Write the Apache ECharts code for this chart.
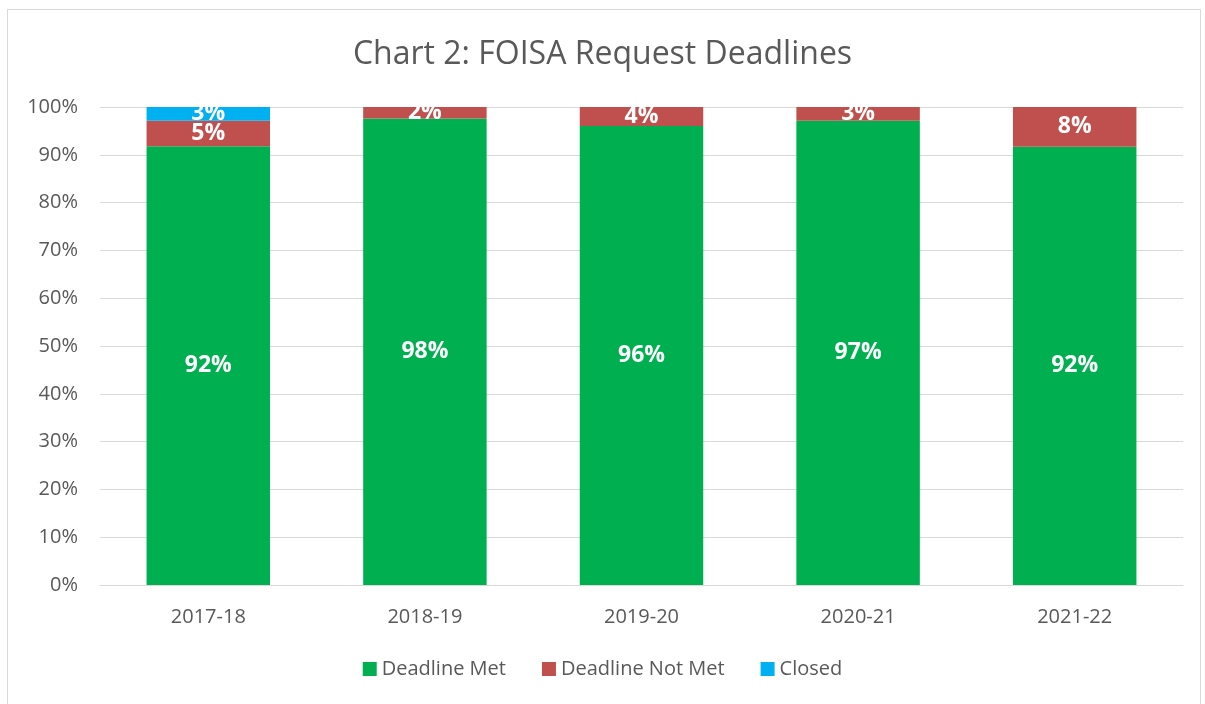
<!DOCTYPE html>
<html>
<head>
<meta charset="utf-8">
<script src="https://cdn.jsdelivr.net/npm/echarts@6/dist/echarts.min.js"></script>
<style>
  html, body { margin: 0; padding: 0; background: #fff; }
  #frame { position: absolute; left: 7px; top: 9px; width: 1194px; height: 720px; border: 1px solid #d9d9d9; box-sizing: border-box; }
  #chart { position: absolute; left: 0; top: 0; width: 1205px; height: 704px; }
</style>
</head>
<body>
<div id="frame"></div>
<div id="chart"></div>
<script>
const years = ["2017-18", "2018-19", "2019-20", "2020-21", "2021-22"];
const deadlineMet = [91.8, 97.6, 96.0, 97.1, 91.7];
const deadlineNotMet = [5.3, 2.4, 4.0, 2.9, 8.3];
const closed = [2.9, 0, 0, 0, 0];
const yTicks = [0, 10, 20, 30, 40, 50, 60, 70, 80, 90, 100];

const font = "'Open Sans', 'Noto Sans', sans-serif";

function seg(name, values, color) {
  return {
    name: name,
    type: "bar",
    stack: "total",
    data: values,
    barWidth: "57%",
    itemStyle: { color: color },
    label: {
      show: true,
      position: "inside",
      color: "#fff",
      fontWeight: "bold",
      fontSize: 23,
      fontFamily: font,
      formatter: p => (p.value > 0 ? Math.round(p.value) + "%" : "")
    }
  };
}

const chart = echarts.init(document.getElementById("chart"));
chart.setOption({
  animation: false,
  title: {
    text: "Chart 2: FOISA Request Deadlines",
    left: "center",
    top: 34,
    textStyle: { fontFamily: font, fontSize: 32, fontWeight: "normal", color: "#595959" }
  },
  legend: {
    bottom: 20,
    left: "center",
    itemWidth: 14,
    itemHeight: 14,
    itemGap: 36,
    icon: "rect",
    textStyle: { fontFamily: font, fontSize: 20, color: "#595959" }
  },
  grid: { left: 100, right: 22, top: 107, bottom: 119 },
  xAxis: {
    type: "category",
    data: years,
    axisLine: { lineStyle: { color: "#d9d9d9" } },
    axisTick: { show: false },
    axisLabel: { fontFamily: font, fontSize: 20, color: "#595959", margin: 22 }
  },
  yAxis: {
    type: "value",
    min: yTicks[0],
    max: yTicks[yTicks.length - 1],
    interval: 10,
    axisLine: { show: false },
    axisTick: { show: false },
    splitLine: { lineStyle: { color: "#d9d9d9" } },
    axisLabel: { fontFamily: font, fontSize: 20, color: "#595959", margin: 22, formatter: v => v + "%" }
  },
  series: [
    seg("Deadline Met", deadlineMet, "#00b050"),
    seg("Deadline Not Met", deadlineNotMet, "#c0504d"),
    seg("Closed", closed, "#00b0f0")
  ]
});
</script>
</body>
</html>
